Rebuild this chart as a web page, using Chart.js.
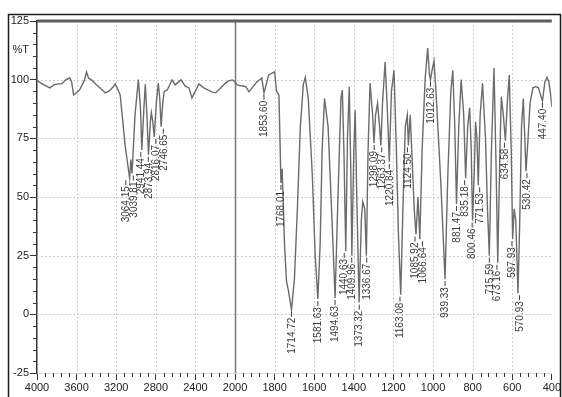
<!DOCTYPE html>
<html>
<head>
<meta charset="utf-8">
<script src="https://cdn.jsdelivr.net/npm/chart.js@4.4.1/dist/chart.umd.min.js"></script>
<style>
  html, body { margin: 0; padding: 0; background: #fff; }
  #wrap { width: 562px; height: 397px; position: relative; }
</style>
</head>
<body>
<div id="wrap"><canvas id="ir" width="562" height="397"></canvas></div>
<script>
// IR spectrum, %T against wavenumber (cm-1)
const spectrumWavenumbers = [
  4000, 3930, 3870, 3830, 3790, 3750, 3710, 3670, 3650, 3630, 3570, 3520, 3500, 3480, 3450,
  3400, 3340, 3310, 3270, 3230, 3210, 3190, 3160, 3140, 3110, 3052, 3010, 2976, 2955, 2920,
  2906, 2890, 2855, 2845, 2830, 2795, 2775, 2760, 2730, 2715, 2685, 2635, 2605, 2545, 2505,
  2465, 2435, 2395, 2365, 2315, 2275, 2235, 2195, 2145, 2105, 2065, 2025, 2000, 1990, 1945,
  1930, 1890, 1865, 1830, 1800, 1790, 1778, 1762, 1750, 1740, 1730, 1700, 1685, 1670, 1655,
  1645, 1630, 1610, 1595, 1570, 1560, 1548, 1530, 1510, 1480, 1465, 1458, 1450, 1432, 1423,
  1415, 1400, 1393, 1385, 1362, 1355, 1345, 1328, 1318, 1305, 1290, 1280, 1270, 1255, 1242,
  1232, 1210, 1197, 1185, 1175, 1152, 1140, 1130, 1115, 1105, 1095, 1076, 1055, 1040, 1027,
  1018, 1005, 995, 985, 960, 925, 910, 900, 890, 870, 858, 845, 825, 815, 807,
  792, 785, 778, 762, 750, 735, 725, 705, 692, 682, 662, 655, 645, 625, 615,
  605, 590, 582, 562, 553, 544, 520, 510, 495, 480, 468, 455, 435, 424, 415,
  405, 400
];
const spectrumTransmittance = [
  99.6, 97.8, 96.5, 97.8, 98.2, 98.2, 99.9, 100.7, 99, 93.5, 95.6, 99.9, 103.3, 100.7, 99.9,
  97.8, 95.6, 94.4, 95.2, 97, 98.2, 96.5, 93.5, 85, 72, 66, 85, 100, 88, 88,
  98, 85, 82, 86, 82, 90, 98.6, 92, 90, 95, 95.6, 99.9, 97.8, 99.9, 97.3,
  96.5, 92.2, 95.6, 98.2, 96.5, 95.6, 94.8, 94.4, 96.5, 98.2, 99.5, 99.9, 99, 97.8, 97,
  94.8, 99, 100.7, 102, 103.3, 95, 93.5, 62, 30, 14, 10, 15, 45, 80, 98,
  101, 92, 60, 25, 30, 70, 92, 80, 40, 50, 92, 95.6, 70, 75, 97,
  60, 70, 87, 50, 40, 48, 45, 70, 98.6, 85, 85, 90, 80, 90, 107.5,
  90, 95, 104, 70, 35, 45, 80, 85, 85, 65, 45, 50, 70, 100, 113.5,
  102, 104, 108, 95, 55, 60, 95, 104, 80, 80, 100, 85, 80, 88, 70,
  60, 82, 75, 85, 98.5, 75, 45, 70, 105, 65, 70, 92.7, 85, 90, 102,
  70, 45, 40, 40, 80, 92, 75, 90, 96.6, 97, 96.6, 93, 99, 101, 99,
  93, 88.4
];

// labelled absorption bands
const peakWavenumbers = [
  3064.15, 3039.81, 2941.44, 2873.94, 2816.07, 2746.65, 1853.60, 1768.01, 1714.72, 1581.63,
  1494.63, 1440.63, 1409.96, 1373.32, 1336.67, 1298.09, 1263.37, 1220.84, 1163.08, 1124.50,
  1085.92, 1066.64, 1012.63, 939.33, 881.47, 835.18, 800.46, 771.53, 715.59, 673.16,
  634.58, 597.93, 570.93, 530.42, 447.40
];
const peakTransmittance = [
  58, 60, 70, 68, 75.6, 80, 94.4, 56, 2, 6.5,
  7, 27, 25, 5, 25, 73, 72, 65, 8.4, 72,
  34, 32, 100, 15, 47, 58, 40, 55, 25, 22,
  74, 32, 9, 61, 91
];

// axis ticks
const xTickValues = [4000, 3600, 3200, 2800, 2400, 2000, 1800, 1600, 1400, 1200, 1000, 800, 600, 400];
const yTickValues = [-25, 0, 25, 50, 75, 100, 112.5, 125];
const yGridValues = [0, 25, 50, 75, 100];
const AXIS_BREAK = 2000;

// merge the sampled trace with the band minima so every labelled band is a vertex of the trace
const tracePoints = spectrumWavenumbers.map((w, i) => ({ x: w, y: spectrumTransmittance[i] }))
  .concat(peakWavenumbers.map((w, i) => ({ x: w, y: peakTransmittance[i] })))
  .sort((a, b) => b.x - a.x);

// wavenumber axis with a scale change at 2000 cm-1 (4000-2000 compressed by half)
class WavenumberScale extends Chart.LinearScale {
  toUnits(v) { return v >= AXIS_BREAK ? (4000 - v) / 2 : 1000 + (AXIS_BREAK - v); }
  getPixelForValue(v) { return this.getPixelForDecimal(this.toUnits(v) / 2600); }
  getValueForPixel(p) {
    const u = this.getDecimalForPixel(p) * 2600;
    return u <= 1000 ? 4000 - 2 * u : AXIS_BREAK - (u - 1000);
  }
}
WavenumberScale.id = 'wavenumber';
WavenumberScale.defaults = Chart.LinearScale.defaults;
Chart.register(WavenumberScale);

const tickFont = { family: '"Liberation Sans Narrow", "Liberation Sans", Arial, sans-serif', size: 11 };

const framePlugin = {
  id: 'frame',
  beforeDraw(chart) {
    const ctx = chart.ctx;
    ctx.save();
    ctx.fillStyle = '#fff';
    ctx.fillRect(0, 0, chart.width, chart.height);
    ctx.strokeStyle = '#1a1a1a';
    ctx.lineWidth = 1.5;
    ctx.strokeRect(8.5, 14.5, chart.width - 10, chart.height + 10);
    ctx.restore();
  }
};

const gridPlugin = {
  id: 'dottedGrid',
  beforeDatasetsDraw(chart) {
    const { ctx, chartArea: a, scales: { x, y } } = chart;
    ctx.save();
    ctx.strokeStyle = '#cfcfcf';
    ctx.lineWidth = 1;
    ctx.setLineDash([2, 2]);
    yGridValues.forEach(v => {
      const py = Math.round(y.getPixelForValue(v)) + 0.5;
      ctx.beginPath(); ctx.moveTo(a.left, py); ctx.lineTo(a.right, py); ctx.stroke();
    });
    xTickValues.forEach(v => {
      if (v === 4000 || v === 400 || v === AXIS_BREAK) return;
      const px = Math.round(x.getPixelForValue(v)) + 0.5;
      ctx.beginPath(); ctx.moveTo(px, a.top); ctx.lineTo(px, a.bottom); ctx.stroke();
    });
    ctx.setLineDash([]);
    // scale-change marker
    const bx = Math.round(x.getPixelForValue(AXIS_BREAK)) + 0.5;
    ctx.strokeStyle = '#7a7a7a';
    ctx.lineWidth = 1.5;
    ctx.beginPath(); ctx.moveTo(bx, a.top); ctx.lineTo(bx, a.bottom); ctx.stroke();
    // top border at 125 %T
    const ty = y.getPixelForValue(125);
    ctx.strokeStyle = '#5f5f5f';
    ctx.lineWidth = 3;
    ctx.beginPath(); ctx.moveTo(a.left, ty); ctx.lineTo(a.right, ty); ctx.stroke();
    ctx.restore();
  }
};

const minorTickPlugin = {
  id: 'minorTicks',
  afterDraw(chart) {
    const { ctx, chartArea: a, scales: { x, y } } = chart;
    ctx.save();
    ctx.strokeStyle = '#333';
    ctx.lineWidth = 1;
    for (let v = -25; v <= 125; v += 5) {
      if (v % 25 === 0) continue;
      const py = Math.round(y.getPixelForValue(v)) + 0.5;
      ctx.beginPath(); ctx.moveTo(a.left - 4, py); ctx.lineTo(a.left, py); ctx.stroke();
    }
    for (let v = 4000; v > AXIS_BREAK; v -= 80) {
      if ((4000 - v) % 400 === 0) continue;
      const px = Math.round(x.getPixelForValue(v)) + 0.5;
      ctx.beginPath(); ctx.moveTo(px, a.bottom); ctx.lineTo(px, a.bottom + 4); ctx.stroke();
    }
    for (let v = AXIS_BREAK; v > 400; v -= 40) {
      if ((AXIS_BREAK - v) % 200 === 0) continue;
      const px = Math.round(x.getPixelForValue(v)) + 0.5;
      ctx.beginPath(); ctx.moveTo(px, a.bottom); ctx.lineTo(px, a.bottom + 4); ctx.stroke();
    }
    ctx.restore();
  }
};

const peakLabelPlugin = {
  id: 'peakLabels',
  afterDatasetsDraw(chart) {
    const { ctx, scales: { x, y } } = chart;
    const items = peakWavenumbers.map((w, i) => ({
      text: w.toFixed(2),
      px: x.getPixelForValue(w),
      py: y.getPixelForValue(peakTransmittance[i])
    })).sort((a, b) => a.px - b.px);
    // spread neighbouring labels so the rotated texts do not overlap
    const gap = 7.5;
    items.forEach(it => { it.lx = it.px; });
    for (let pass = 0; pass < 40; pass++) {
      for (let i = 1; i < items.length; i++) {
        const d = items[i].lx - items[i - 1].lx;
        if (d < gap) {
          const s = (gap - d) / 2;
          items[i].lx += s; items[i - 1].lx -= s;
        }
      }
    }
    ctx.save();
    ctx.fillStyle = '#3c3c3c';
    ctx.strokeStyle = '#3c3c3c';
    ctx.lineWidth = 1;
    ctx.font = '10px "Liberation Sans", Arial, sans-serif';
    ctx.textAlign = 'right';
    ctx.textBaseline = 'middle';
    items.forEach(it => {
      ctx.save();
      ctx.translate(it.lx, it.py + 2);
      ctx.rotate(-Math.PI / 2);
      ctx.beginPath(); ctx.moveTo(0, 0); ctx.lineTo(-5, 0); ctx.stroke();
      ctx.fillText(it.text, -6, 0.5);
      ctx.restore();
    });
    ctx.restore();
  }
};

new Chart(document.getElementById('ir'), {
  type: 'line',
  data: {
    datasets: [{
      data: tracePoints,
      borderColor: '#6b6b6b',
      borderWidth: 1.4,
      pointRadius: 0,
      tension: 0,
      fill: false
    }]
  },
  options: {
    responsive: false,
    animation: false,
    parsing: true,
    layout: { padding: { top: 21, right: 7, left: 0, bottom: 0 } },
    plugins: { legend: { display: false }, tooltip: { enabled: false } },
    scales: {
      x: {
        type: 'wavenumber',
        min: 400,
        max: 4000,
        afterBuildTicks(scale) { scale.ticks = xTickValues.map(v => ({ value: v })); },
        afterFit(scale) { scale.height = 24; },
        ticks: {
          autoSkip: false,
          maxRotation: 0,
          padding: 1,
          color: '#222',
          font: tickFont,
          callback: v => String(v)
        },
        grid: { drawOnChartArea: false, tickLength: 7, tickColor: '#333', tickWidth: 1 },
        border: { display: true, color: '#d8d8d8', width: 1 }
      },
      y: {
        type: 'linear',
        min: -25,
        max: 125,
        afterBuildTicks(scale) { scale.ticks = yTickValues.map(v => ({ value: v })); },
        afterFit(scale) { scale.width = 37; },
        ticks: {
          autoSkip: false,
          padding: 1,
          color: '#222',
          font: tickFont,
          callback: v => (v === 112.5 ? '%T' : String(v))
        },
        grid: {
          drawOnChartArea: false,
          tickLength: 7,
          tickWidth: 1,
          tickColor: ctx => (ctx.tick && ctx.tick.value === 112.5 ? 'rgba(0,0,0,0)' : '#333')
        },
        border: { display: true, color: '#333', width: 1.5 }
      }
    }
  },
  plugins: [framePlugin, gridPlugin, minorTickPlugin, peakLabelPlugin]
});
</script>
</body>
</html>
